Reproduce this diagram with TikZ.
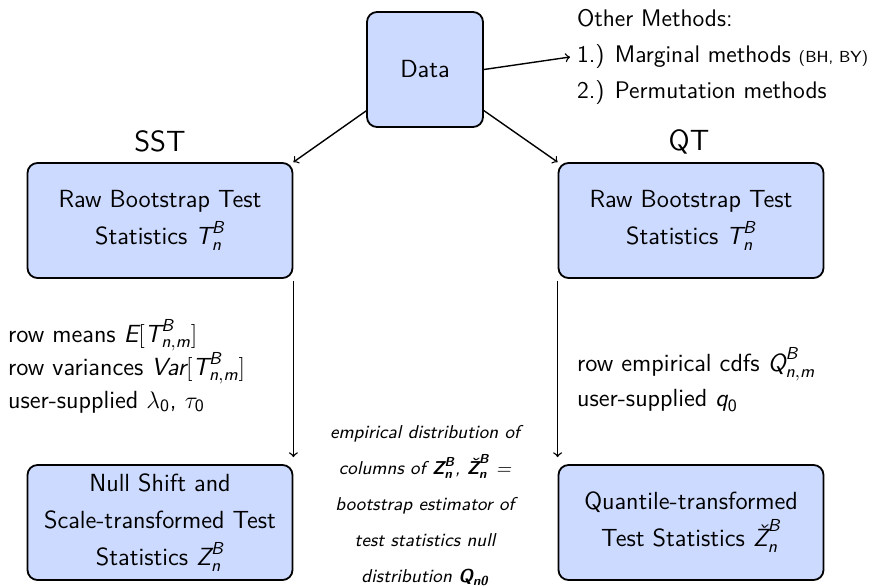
\documentclass[tikz,border=0pt]{standalone}
\usepackage{amsmath}
\definecolor{boxblue}{RGB}{204,218,255}
\newcommand{\si}[1]{\textsf{\itshape #1}}
\newcommand{\sib}[1]{\textsf{\bfseries\itshape #1}}
\begin{document}
\begin{tikzpicture}[x=0.5pt,y=-0.5pt,
  font=\sffamily\fontsize{12.4}{18.5}\selectfont,
  blockbox/.style={draw=black, line width=0.9pt, fill=boxblue, rounded corners=5pt,
    align=center, minimum width=132.5pt, minimum height=57.5pt, inner sep=0pt},
  conn/.style={->, line width=0.7pt},
  labeltext/.style={font=\sffamily\fontsize{14.6}{17}\selectfont},
  sidetext/.style={align=left, anchor=west},
  notetext/.style={align=center, font=\sffamily\itshape\fontsize{9.3}{18}\selectfont},
  ]
\useasboundingbox (0,0) rectangle (884,586);
\node[blockbox, minimum width=58pt] (data) at (425,69.5) {Data};
\node[blockbox] (sst) at (160,220.5) {Raw Bootstrap Test\\Statistics $\si{T}^{\si{B}}_{\si{n}}$};
\node[blockbox] (qt) at (691,220.5) {Raw Bootstrap Test\\Statistics $\si{T}^{\si{B}}_{\si{n}}$};
\node[blockbox] (null) at (160,522.5) {Null Shift and\\Scale-transformed Test\\Statistics $\si{Z}^{\si{B}}_{\si{n}}$};
\node[blockbox] (qtz) at (691,522.5) {Quantile-transformed\\Test Statistics $\si{\v{Z}}^{\si{B}}_{\si{n}}$};
\node[labeltext] (sstlab) at (160,141.5) {SST};
\node[labeltext] (qtlab) at (689,141.5) {QT};
\node[sidetext, font=\sffamily\fontsize{12}{18.2}\selectfont] (om) at (570,57)
  {Other Methods:\\1.) Marginal methods {\fontsize{8}{9}\selectfont (BH, BY)}\\2.) Permutation methods};
\node[sidetext, font=\sffamily\fontsize{12.4}{16.5}\selectfont] (sstnote) at (1,366)
  {row means $\si{E}[\si{T}^{\si{B}}_{\si{n},\si{m}}]$\\row variances $\si{Var}[\si{T}^{\si{B}}_{\si{n},\si{m}}]$\\user-supplied $\lambda_{\textsf{0}}$, $\tau_{\textsf{0}}$};
\node[sidetext, font=\sffamily\fontsize{12.4}{17.5}\selectfont] (qtnote) at (570,380)
  {row empirical cdfs $\si{Q}^{\si{B}}_{\si{n},\si{m}}$\\user-supplied $\si{q}_{\textsf{0}}$};
\node[notetext] (mid) at (425,506)
  {empirical distribution of\\columns of $\sib{Z}^{\sib{B}}_{\sib{n}}$, $\sib{\v{Z}}^{\sib{B}}_{\sib{n}}$ =\\bootstrap estimator of\\test statistics null\\distribution $\sib{Q}_{\sib{n0}}$};
\draw[conn] (data) -- (sst.north east);
\draw[conn] (data) -- (qt.north west);
\draw[conn] (data.east) -- (om.west);
\draw[conn, shorten <=1pt, shorten >=3.5pt] (sst.south east) -- (null.north east);
\draw[conn, shorten <=1pt, shorten >=3.5pt] (qt.south west) -- (qtz.north west);
\end{tikzpicture}
\end{document}
